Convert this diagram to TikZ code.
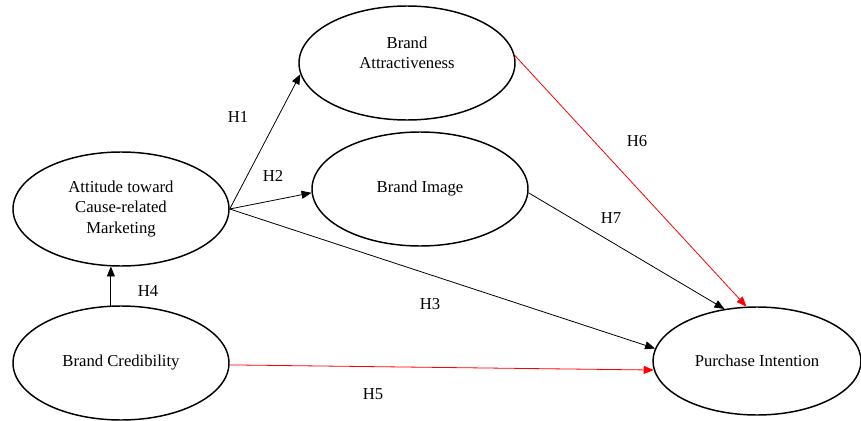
\documentclass[tikz,border=0pt]{standalone}
\usepackage{fontspec}
\setmainfont{Liberation Serif}
\usetikzlibrary{shapes,arrows.meta,positioning}

\begin{document}
\begin{tikzpicture}[x=0.75pt,y=-0.75pt,
    every node/.style={font=\fontsize{12.5}{15.5}\selectfont},
    construct/.style={draw,ellipse,line width=1.1pt,align=center,inner sep=0pt,
        minimum width=162pt,minimum height=85.5pt},
    hyp/.style={-{Triangle[length=7.5pt,width=6pt]},line width=0.6pt},
    hypred/.style={hyp,color=red}]
    \useasboundingbox (0,0) rectangle (861,421);

    % Constructs
    \node[construct] (att) at (121,209) {Attitude toward\\Cause-related\\Marketing};
    \node[construct] (bc) at (121,363) {Brand Credibility};
    \node[construct] (ba) at (407,63) {Brand\\Attractiveness\\\mbox{}};
    \node[construct] (bi) at (420,189) {Brand Image};
    \node[construct,minimum width=156pt,minimum height=81pt] (pi) at (757,361) {Purchase Intention};

    % Hypotheses
    \draw[hyp] (att.east) -- (ba.186);
    \draw[hyp] (att.east) -- (bi.182);
    \draw[hyp] (att.east) -- (pi.173);
    \draw[hyp] (bc.100) -- (att.260);
    \draw[hypred] (bc.-1) -- (pi.185);
    \draw[hypred] (ba.4) -- (pi.101);
    \draw[hyp] (bi.-2) -- (pi.122);

    % Labels
    \node (h1) at (238,117) {H1};
    \node (h2) at (273,176) {H2};
    \node (h3) at (430,304) {H3};
    \node (h4) at (148,291) {H4};
    \node (h5) at (373,394) {H5};
    \node (h6) at (637,141) {H6};
    \node (h7) at (611,218) {H7};
\end{tikzpicture}
\end{document}
